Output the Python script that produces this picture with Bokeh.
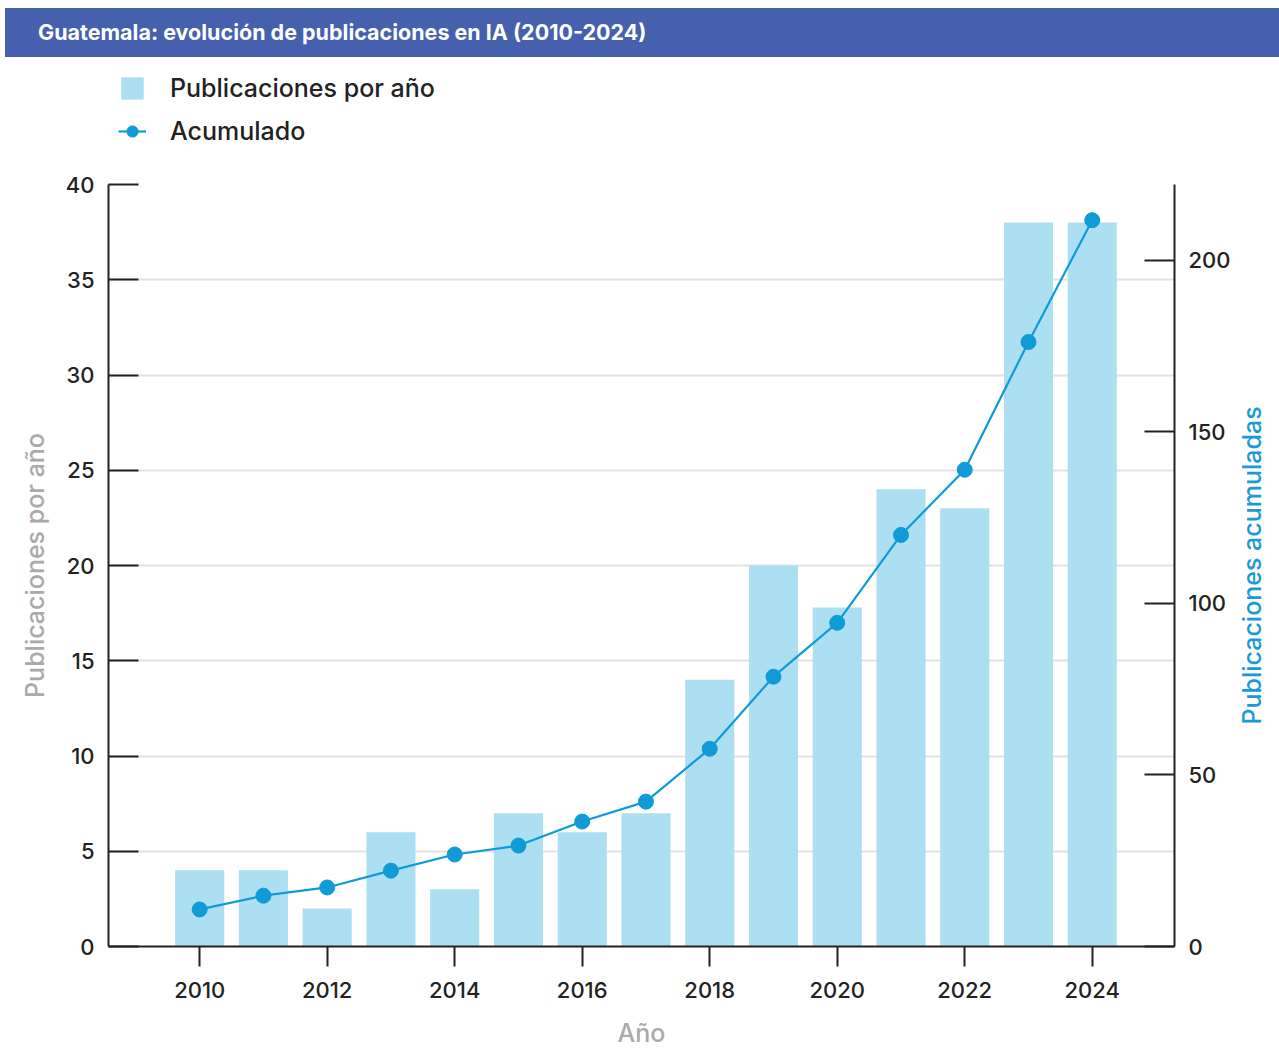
from bokeh.plotting import figure
from bokeh.models import Range1d, LinearAxis, FixedTicker, Legend, LegendItem, ColumnDataSource, Div, Title
from bokeh.layouts import column, row
from bokeh.embed import file_html
from bokeh.resources import INLINE

years = [2010, 2011, 2012, 2013, 2014, 2015, 2016, 2017, 2018, 2019, 2020, 2021, 2022, 2023, 2024]
per_year = [4, 4, 2, 6, 3, 7, 6, 7, 14, 20, 17.8, 24, 23, 38, 38]
cumulative = [10.8, 14.8, 17.2, 22.1, 26.8, 29.4, 36.4, 42.2, 57.6, 78.6, 94.3, 119.9, 138.9, 176.1, 211.6]
left_ticks = [0, 5, 10, 15, 20, 25, 30, 35, 40]
right_ticks = [0, 50, 100, 150, 200]
x_ticks = [2010, 2012, 2014, 2016, 2018, 2020, 2022, 2024]

title_text = "Guatemala: evolución de publicaciones en IA (2010-2024)"
right_label = "Publicaciones acumuladas"
FONT = "Inter"
FONT_M = "'Inter Medium', Inter"
BAR = "#ADDFF3"
LINE = "#0F9BD7"
DARK = "#222222"

title = Div(
    text=title_text, width=1274, height=49, margin=(8, 0, 0, 5),
    styles={"background-color": "#4560AD", "color": "white", "font-family": FONT,
            "font-weight": "bold", "font-size": "21.5px", "line-height": "49px",
            "padding-left": "33px", "box-sizing": "border-box", "white-space": "nowrap"},
)

# ---- legend strip (its own small figure above the chart) ----
lg = figure(width=1279, height=115, x_range=Range1d(0, 1), y_range=Range1d(0, 1),
            output_backend="svg", toolbar_location=None, x_axis_type=None, y_axis_type=None,
            min_border_left=108, min_border_right=105, min_border_top=0, min_border_bottom=0)
lg.outline_line_color = None
lg.grid.visible = False
lg.background_fill_color = "white"
lg.border_fill_color = "white"
proxy = ColumnDataSource(dict(x=[float("nan")], y=[float("nan")]))
lg_bar = lg.vbar(x="x", top="y", width=0.77, source=proxy, fill_color=BAR, line_color=None)
lg_line = lg.line(x="x", y="y", source=proxy, line_color=LINE, line_width=2.2)
lg_pts = lg.scatter(x="x", y="y", source=proxy, size=15, fill_color=LINE, line_color=LINE)

legend = Legend(items=[LegendItem(label="Publicaciones por año", renderers=[lg_bar]),
                       LegendItem(label="Acumulado", renderers=[lg_line, lg_pts])],
                location=(10, 26), orientation="vertical")
legend.border_line_color = None
legend.background_fill_alpha = 0
legend.padding = 0
legend.margin = 0
legend.spacing = 13
legend.glyph_width = 28
legend.glyph_height = 28
legend.label_standoff = 24
legend.label_text_font = FONT_M
legend.label_text_font_size = "25px"
legend.label_text_color = DARK
legend.label_height = 30
lg.add_layout(legend, "center")

# ---- main chart ----
src = ColumnDataSource(dict(x=years, bars=per_year, cum=cumulative))

p = figure(width=1234, height=878, x_range=Range1d(2008.57, 2025.29), y_range=Range1d(0, 40),
           output_backend="svg", toolbar_location=None,
           min_border_left=108, min_border_right=60, min_border_top=12, min_border_bottom=103)
p.outline_line_color = None
p.background_fill_color = "white"
p.border_fill_color = "white"
p.extra_y_ranges = {"right": Range1d(0, 222)}

bars = p.vbar(x="x", top="bars", width=0.77, source=src, fill_color=BAR, line_color=None)
ln = p.line(x="x", y="cum", source=src, line_color=LINE, line_width=2.2, y_range_name="right")
pts = p.scatter(x="x", y="cum", source=src, size=15, fill_color=LINE, line_color=LINE,
                y_range_name="right")

xa = p.xaxis[0]
xa.ticker = FixedTicker(ticks=x_ticks)
xa.axis_label = "Año"
ya = p.yaxis[0]
ya.ticker = FixedTicker(ticks=left_ticks)
ya.axis_label = "Publicaciones por año"

ra = LinearAxis(y_range_name="right", ticker=FixedTicker(ticks=right_ticks))
p.add_layout(ra, "right")

for ax in (xa, ya, ra):
    ax.axis_line_color = DARK
    ax.axis_line_width = 2
    ax.major_tick_line_color = DARK
    ax.major_tick_line_width = 2
    ax.minor_tick_line_color = None
    ax.major_label_text_font = FONT_M
    ax.major_label_text_font_size = "22px"
    ax.major_label_text_color = DARK
    ax.axis_label_text_font = FONT_M
    ax.axis_label_text_font_size = "25px"
    ax.axis_label_text_font_style = "normal"
    ax.major_label_standoff = 14

xa.major_tick_in = 0
xa.major_tick_out = 20
xa.major_label_standoff = 15
xa.axis_label_text_color = "#AAAAAA"
xa.axis_label_standoff = 17
ya.major_tick_in = 30
ya.major_tick_out = 0
ya.axis_label_text_color = "#AAAAAA"
ya.axis_label_standoff = 13
ra.major_tick_in = 30
ra.major_tick_out = 0

p.xgrid.visible = False
p.ygrid.ticker = FixedTicker(ticks=left_ticks)
p.ygrid.grid_line_color = "#E3E3E3"
p.ygrid.grid_line_width = 2

# ---- right axis title: a narrow strip whose left-side title reads bottom-to-top ----
side = figure(width=45, height=878, x_range=Range1d(0, 1), y_range=Range1d(0, 1),
              output_backend="svg", toolbar_location=None, x_axis_type=None, y_axis_type=None,
              min_border_left=0, min_border_right=0, min_border_top=12, min_border_bottom=103)
side.outline_line_color = None
side.grid.visible = False
side.background_fill_color = "white"
side.border_fill_color = "white"
side.add_layout(Title(text=right_label, align="center", text_font=FONT_M,
                      text_font_size="25px", text_font_style="normal",
                      text_color="#1A9AD6", standoff=0, offset=0), "left")

layout = column(title, lg, row(p, side, spacing=0), spacing=0)
open("out.html", "w").write(file_html(layout, INLINE))
